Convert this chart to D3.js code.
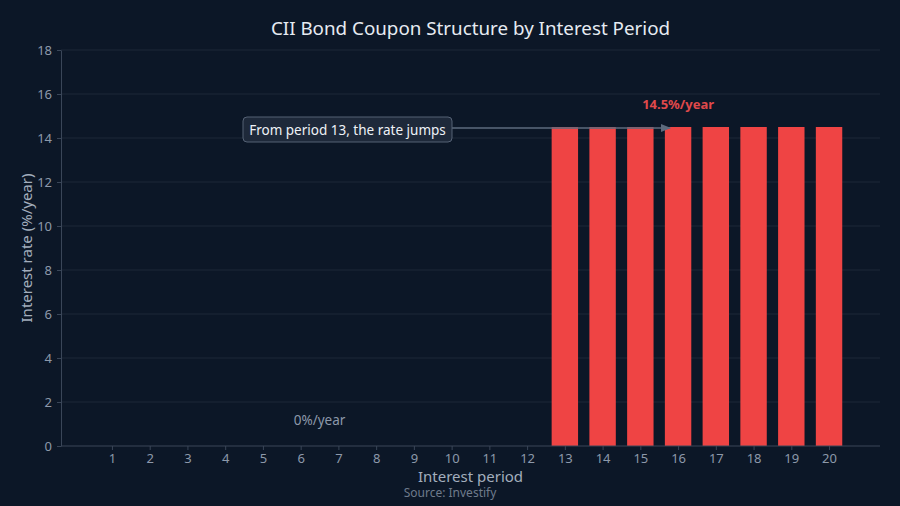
<!DOCTYPE html>
<html>
<head>
<meta charset="utf-8">
<script src="https://cdn.jsdelivr.net/npm/d3@7"></script>
<style>
  html, body { margin: 0; padding: 0; background: #0c1727; }
  svg { display: block; font-family: "Noto Sans", "Open Sans", sans-serif; }
</style>
</head>
<body>
<script>
// data
var periods = d3.range(1, 21);
var rates = [0, 0, 0, 0, 0, 0, 0, 0, 0, 0, 0, 0,
             14.5, 14.5, 14.5, 14.5, 14.5, 14.5, 14.5, 14.5];
var yTicks = [0, 2, 4, 6, 8, 10, 12, 14, 16, 18];

var w = 900, h = 506;
var margin = {top: 50, right: 20, bottom: 60, left: 61};

var svg = d3.select("body").append("svg")
  .attr("width", w)
  .attr("height", h)
  .style("background-color", "#0c1727");

var x = d3.scaleLinear()
  .domain([-0.35, 21.35])
  .range([margin.left, w - margin.right]);

var y = d3.scaleLinear()
  .domain([0, 18])
  .range([h - margin.bottom, margin.top]);

// grid lines
svg.append("g")
  .selectAll("line")
  .data(yTicks.slice(1))
  .join("line")
  .attr("x1", margin.left)
  .attr("x2", w - margin.right)
  .attr("y1", function(d){ return y(d); })
  .attr("y2", function(d){ return y(d); })
  .style("stroke", "#1c2839")
  .style("stroke-width", 1);

// bars
var barW = x(0.7) - x(0);
svg.append("g")
  .selectAll("rect")
  .data(periods)
  .join("rect")
  .attr("x", function(d){ return x(d) - barW / 2; })
  .attr("y", function(d, i){ return y(rates[i]); })
  .attr("width", barW)
  .attr("height", function(d, i){ return y(0) - y(rates[i]); })
  .style("fill", "#ef4444");

// axes
var xAxis = svg.append("g")
  .attr("transform", "translate(0," + y(0) + ")")
  .call(d3.axisBottom(x).tickValues(periods).tickSize(4).tickPadding(4).tickSizeOuter(0));

var yAxis = svg.append("g")
  .attr("transform", "translate(" + margin.left + ",0)")
  .call(d3.axisLeft(y).tickValues(yTicks).tickSize(4).tickPadding(5).tickSizeOuter(0));

[xAxis, yAxis].forEach(function(a){
  a.select(".domain").style("stroke", "#3a4658");
  a.selectAll(".tick line").style("stroke", "#3a4658");
  a.selectAll(".tick text")
    .style("fill", "#8d99aa")
    .style("font-size", "13px")
    .style("font-family", "\"Noto Sans\", sans-serif");
});
xAxis.select(".domain").attr("d", "M" + margin.left + ",0H" + (w - margin.right));

// title
svg.append("text")
  .attr("x", (margin.left + w - margin.right) / 2)
  .attr("y", 35)
  .attr("text-anchor", "middle")
  .style("fill", "#e6ebf2")
  .style("font-size", "18.8px")
  .text("CII Bond Coupon Structure by Interest Period");

// axis titles
svg.append("text")
  .attr("x", (margin.left + w - margin.right) / 2)
  .attr("y", 482)
  .attr("text-anchor", "middle")
  .style("fill", "#a3aebd")
  .style("font-size", "15px")
  .text("Interest period");

svg.append("text")
  .attr("transform", "translate(32," + y(9) + ") rotate(-90)")
  .attr("text-anchor", "middle")
  .style("fill", "#a3aebd")
  .style("font-size", "15px")
  .text("Interest rate (%/year)");

svg.append("text")
  .attr("x", 450)
  .attr("y", 497)
  .attr("text-anchor", "middle")
  .style("fill", "#6f7b8c")
  .style("font-size", "12px")
  .text("Source: Investify");

// value labels
svg.append("text")
  .attr("x", x(16))
  .attr("y", y(rates[15]) - 18)
  .attr("text-anchor", "middle")
  .style("fill", "#e0494b")
  .style("font-size", "13px")
  .style("font-weight", "bold")
  .text("14.5%/year");

svg.append("text")
  .attr("x", x(6.5))
  .attr("y", y(rates[5]) - 21)
  .attr("text-anchor", "middle")
  .style("fill", "#8d99aa")
  .style("font-size", "13.5px")
  .text("0%/year");

// annotation arrow
svg.append("defs").append("marker")
  .attr("id", "arr")
  .attr("viewBox", "0 0 10 10")
  .attr("refX", 9)
  .attr("refY", 5)
  .attr("markerWidth", 7)
  .attr("markerHeight", 7)
  .attr("orient", "auto")
  .append("path")
  .attr("d", "M0,1L10,5L0,9z")
  .style("fill", "#5d6b7e");

var ay = y(14.5) + 1;
svg.append("line")
  .attr("x1", 452)
  .attr("x2", x(16) - 8)
  .attr("y1", ay)
  .attr("y2", ay)
  .style("stroke", "#5d6b7e")
  .style("stroke-width", 1.5)
  .attr("marker-end", "url(#arr)");

svg.append("rect")
  .attr("x", 243)
  .attr("y", 117)
  .attr("width", 209)
  .attr("height", 25)
  .attr("rx", 4)
  .style("fill", "#1e293a")
  .style("stroke", "#556275")
  .style("stroke-width", 1);

svg.append("text")
  .attr("x", 347.5)
  .attr("y", 134.5)
  .attr("text-anchor", "middle")
  .style("fill", "#eef2f7")
  .style("font-size", "13.5px")
  .text("From period 13, the rate jumps");
</script>
</body>
</html>
